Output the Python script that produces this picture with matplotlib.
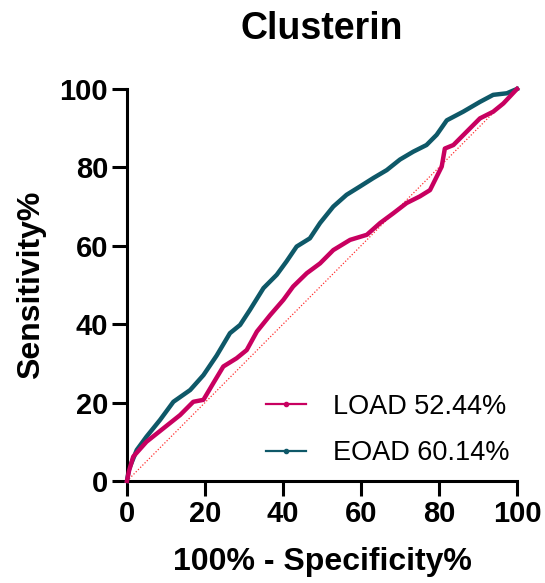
import matplotlib
matplotlib.use("Agg")
import matplotlib.pyplot as plt
from matplotlib.lines import Line2D

plt.rcParams['font.family'] = ['Liberation Sans', 'DejaVu Sans']

title = "Clusterin"
xlabel = "100% - Specificity%"
ylabel = "Sensitivity%"
ticks = [0, 20, 40, 60, 80, 100]

eoad_x = [0, 0.5, 2.5, 5, 8.5, 11.9, 16.2, 19.6, 23, 26.4, 29, 31.5, 35, 38.4, 40.9, 43.5,
          46.9, 49.5, 52.9, 56.3, 59.7, 63.2, 66.6, 70, 73.4, 76.8, 79.4, 82, 86.2, 90.5,
          93.9, 97.4, 100]
eoad_y = [0, 3.0, 7.9, 11.3, 15.6, 20.2, 23.2, 27, 32, 37.7, 39.8, 43.6, 49.2, 52.6, 56, 59.8,
          61.9, 65.8, 70, 73, 75.1, 77.3, 79.3, 82, 84, 85.7, 88.3, 92, 94.2, 96.7,
          98.5, 98.9, 100]

load_x = [0, 0.5, 1.6, 5, 9.3, 13.6, 17, 19.6, 22.1, 24.7, 28.1, 30.7, 33.3, 36.7, 40.1, 42.6,
          46.1, 49.5, 52.9, 57.2, 61.5, 64.9, 68.3, 71.7, 75.1, 77.7, 79.4, 80.7, 81.5, 83.7,
          87.1, 90.5, 93.9, 96.5, 100]
load_y = [0, 2.5, 6.2, 10, 13.4, 16.8, 20.2, 20.7, 24.9, 29.2, 31.3, 33.4, 38.1, 42.3, 46.2, 49.6,
          53, 55.5, 58.9, 61.5, 62.8, 65.8, 68.3, 70.9, 72.6, 74.2, 77.6, 80.2, 84.8, 85.7,
          89.1, 92.5, 94.2, 96.3, 100]

labels = ["LOAD 52.44%", "EOAD 60.14%"]
c_load = "#C80060"
c_eoad = "#0E5868"

fig = plt.figure(figsize=(5.45, 5.83), dpi=100)
ax = fig.add_axes([0.233, 0.175, 0.7156, 0.6724])

ax.plot([0, 100], [0, 100], linestyle=(0, (1, 1.5)), color="#FF3030", lw=0.9, zorder=1)
ax.plot(eoad_x, eoad_y, color=c_eoad, lw=3.2, solid_joinstyle='round', zorder=2, clip_on=False)
ax.plot(load_x, load_y, color=c_load, lw=3.2, solid_joinstyle='round', zorder=3, clip_on=False)

ax.set_xlim(0, 100)
ax.set_ylim(0, 100)
ax.set_xticks(ticks)
ax.set_yticks(ticks)
ax.tick_params(axis='both', direction='out', length=10.5, width=2.2, labelsize=21, pad=3)
for lab in ax.get_xticklabels() + ax.get_yticklabels():
    lab.set_fontweight('bold')
for s in ['top', 'right']:
    ax.spines[s].set_visible(False)
for s in ['left', 'bottom']:
    ax.spines[s].set_linewidth(2.2)

ax.set_title(title, fontsize=27, fontweight='bold', pad=36)
ax.set_xlabel(xlabel, fontsize=23, fontweight='bold', labelpad=14)
ax.set_ylabel(ylabel, fontsize=23, fontweight='bold', labelpad=10)

handles = [Line2D([0], [0], color=c_load, lw=1.6, marker='o', ms=3),
           Line2D([0], [0], color=c_eoad, lw=1.6, marker='o', ms=3)]
ax.legend(handles, labels, loc='lower right', bbox_to_anchor=(1.02, 0.0), frameon=False,
          fontsize=19.5, handlelength=1.5, handletextpad=1.0, labelspacing=0.75,
          borderaxespad=0.15)

fig.savefig("out.png", dpi=100)
